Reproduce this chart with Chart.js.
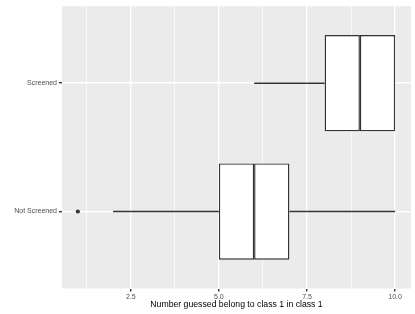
<!DOCTYPE html>
<html>
<head>
<meta charset="utf-8">
<script src="https://cdn.jsdelivr.net/npm/chart.js@4"></script>
<style>
  html, body { margin: 0; padding: 0; background: #ffffff; }
  #wrap { width: 415px; height: 314px; }
</style>
</head>
<body>
<div id="wrap"><canvas id="chart" width="415" height="314"></canvas></div>
<script>
// horizontal boxplot, ggplot2 look
const categories = ["Not Screened", "Screened"];   // y = 1, 2
const whiskerLow = [2, 6];
const q1 = [5, 8];
const median = [6, 9];
const q3 = [7, 10];
const whiskerHigh = [10, 10];
const outliers = [[1], []];
const xTicks = [2.5, 5, 7.5, 10];
const xMinorTicks = [1.25, 3.75, 6.25, 8.75];

const INK = "#333333";
const FONT = "'Liberation Sans', Arial, sans-serif";

// box drawn as two halves so the shared edge forms the thick median line
const lowerHalf = categories.map((c, i) => ({ x: [q1[i], median[i]], y: i + 1 }));
const upperHalf = categories.map((c, i) => ({ x: [median[i], q3[i]], y: i + 1 }));

function boxDataset(label, data) {
  return {
    type: "bar",
    label,
    data,
    indexAxis: "y",
    grouped: false,
    categoryPercentage: 1,
    barPercentage: 0.75,
    backgroundColor: "#ffffff",
    borderColor: INK,
    borderWidth: 1.4,
    borderSkipped: false,
  };
}

const whiskerSets = [];
categories.forEach((c, i) => {
  [[whiskerLow[i], q1[i]], [q3[i], whiskerHigh[i]]].forEach(([a, b]) => {
    if (a === b) return;
    whiskerSets.push({
      type: "scatter",
      data: [{ x: a, y: i + 1 }, { x: b, y: i + 1 }],
      showLine: true,
      borderColor: INK,
      borderWidth: 1.4,
      pointRadius: 0,
    });
  });
});

const outlierPoints = [];
outliers.forEach((vals, i) => vals.forEach((v) => outlierPoints.push({ x: v, y: i + 1 })));

const panelBg = {
  id: "panelBg",
  beforeDraw(chart) {
    const { ctx, chartArea: a } = chart;
    ctx.save();
    ctx.fillStyle = "#EBEBEB";
    ctx.fillRect(a.left, a.top, a.right - a.left, a.bottom - a.top);
    ctx.restore();
  },
};

new Chart(document.getElementById("chart"), {
  type: "bar",
  data: {
    datasets: [
      boxDataset("lower", lowerHalf),
      boxDataset("upper", upperHalf),
      ...whiskerSets,
      {
        type: "scatter",
        data: outlierPoints,
        pointRadius: 2.1,
        pointBackgroundColor: INK,
        pointBorderWidth: 0,
      },
    ],
  },
  options: {
    indexAxis: "y",
    responsive: false,
    animation: false,
    events: [],
    layout: { padding: { top: 3, right: 4, left: 0, bottom: 0 } },
    plugins: { legend: { display: false }, tooltip: { enabled: false } },
    scales: {
      x2: {
        type: "linear",
        axis: "x",
        position: "top",
        offset: false,
        min: 0.55,
        max: 10.45,
        afterBuildTicks: (s) => { s.ticks = xMinorTicks.map((v) => ({ value: v })); },
        afterFit: (s) => { s.height = 0; },
        ticks: { display: false },
        grid: { color: "#ffffff", lineWidth: 0.7, drawTicks: false, offset: false },
        border: { display: false },
      },
      x: {
        type: "linear",
        position: "bottom",
        offset: false,
        beginAtZero: false,
        min: 0.55,
        max: 10.45,
        afterBuildTicks: (s) => { s.ticks = xTicks.map((v) => ({ value: v })); },
        afterFit: (s) => { s.height = 25.5; },
        ticks: {
          color: "#4D4D4D",
          font: { family: FONT, size: 7 },
          padding: 1,
          maxRotation: 0,
          callback: (v) => v.toFixed(1),
        },
        grid: { color: "#ffffff", lineWidth: 1.4, tickColor: INK, tickLength: 3, offset: false },
        border: { display: false },
        title: {
          display: true,
          text: "Number guessed belong to class 1 in class 1",
          color: "#000000",
          font: { family: FONT, size: 8.7 },
          padding: { top: 0, bottom: 4 },
        },
      },
      y: {
        type: "linear",
        offset: false,
        beginAtZero: false,
        min: 0.4,
        max: 2.6,
        afterBuildTicks: (s) => { s.ticks = categories.map((c, i) => ({ value: i + 1 })); },
        afterFit: (s) => { s.width = 62; },
        ticks: {
          color: "#4D4D4D",
          font: { family: FONT, size: 7 },
          padding: 2,
          callback: (v) => categories[v - 1],
        },
        grid: { color: "#ffffff", lineWidth: 1.4, tickColor: INK, tickLength: 3, offset: false },
        border: { display: false },
      },
    },
  },
  plugins: [panelBg],
});
</script>
</body>
</html>
